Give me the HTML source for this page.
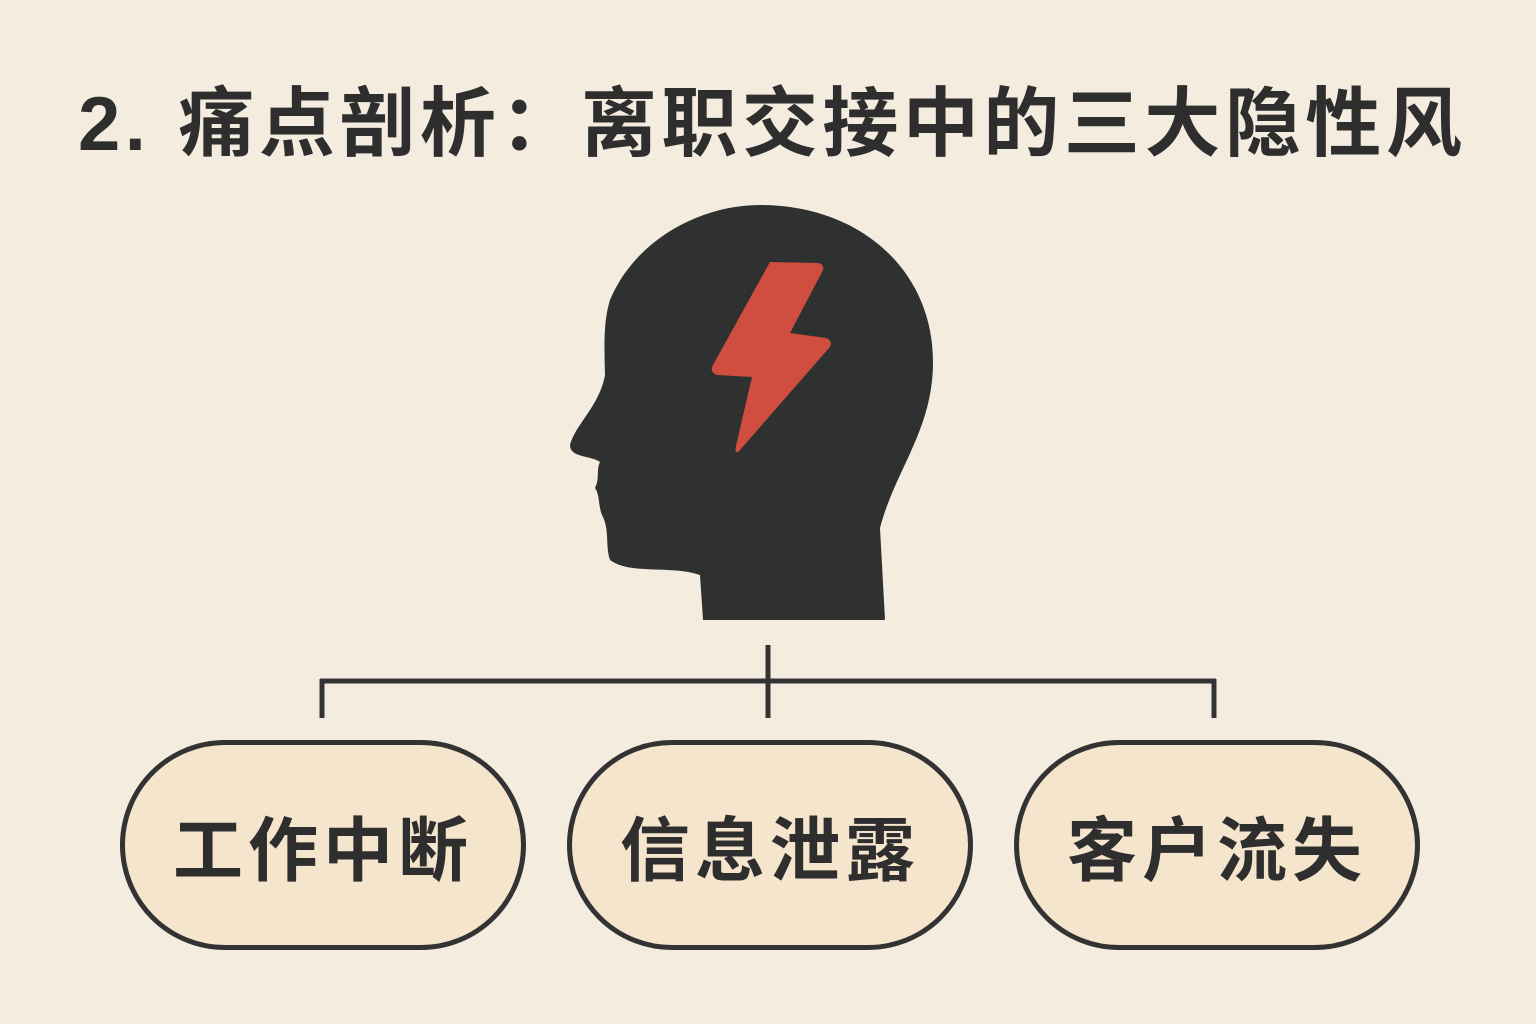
<!DOCTYPE html>
<html><head><meta charset="utf-8"><style>
body{margin:0;width:1536px;height:1024px;background:#f3ecdf;overflow:hidden;position:relative;font-family:"Liberation Sans","Noto Sans CJK SC",sans-serif;}
.t{position:absolute;left:78px;top:62px;font-size:76px;font-weight:bold;color:#2e2e2e;white-space:nowrap;letter-spacing:4.5px;}
.p{position:absolute;top:740px;width:396px;height:200px;border:5px solid #333;border-radius:105px;background:#f5e5cc;box-sizing:content-box;display:flex;align-items:center;justify-content:center;font-size:70px;font-weight:bold;color:#2e2e2e;letter-spacing:5px;padding-left:0;}
</style></head><body>
<div class="t">2.<span style="display:inline-block;width:28px"></span>痛点剖析：离职交接中的三大隐性风</div>
<svg width="1536" height="1024" style="position:absolute;left:0;top:0">
<path d="M760,205 C860,205 933,270 933,362 C933,430 895,470 880,528 L885,620 L703,620 L700,575 C670,565 630,575 610,560 C605,545 610,530 602,515 C598,505 600,495 595,488 C600,478 596,470 600,462 C590,455 570,458 570,445 C575,425 600,405 605,375 C604,340 604,320 610,300 C635,240 700,205 760,205 Z" fill="#2f3130"/>
<path d="M770,262 L818,263 Q826,265 822,272 L790,333 L826,338 Q834,341 829,348 L740,450 Q734,456 736,446 L752,377 L717,375 Q709,372 713,365 Z" fill="#cf4e3f"/>
<g stroke="#333" stroke-width="5" fill="none">
<line x1="768" y1="645" x2="768" y2="718"/>
<line x1="320" y1="681" x2="1216" y2="681"/>
<line x1="322" y1="679" x2="322" y2="718"/>
<line x1="1214" y1="679" x2="1214" y2="718"/>
</g>
</svg>
<div class="p" style="left:120px">工作中断</div>
<div class="p" style="left:567px">信息泄露</div>
<div class="p" style="left:1014px">客户流失</div>
</body></html>
